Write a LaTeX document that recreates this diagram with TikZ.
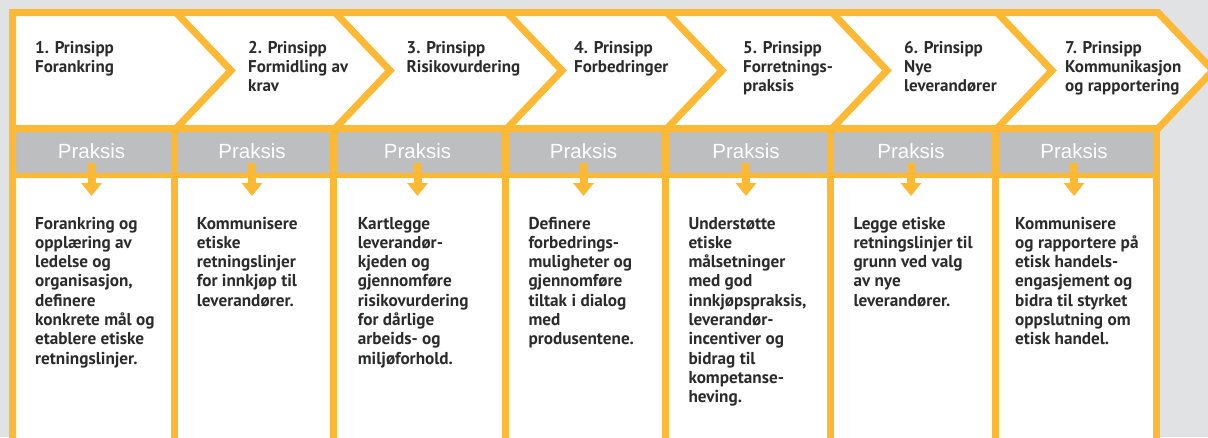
\documentclass[tikz,border=0pt]{standalone}
\usepackage{fontspec}
\setmainfont{PT Sans}
\newfontfamily\praksisfont{Liberation Sans}
\usetikzlibrary{arrows.meta}
\definecolor{ylw}{HTML}{FDB933}
\definecolor{bgray}{HTML}{E1E2E4}
\definecolor{band}{HTML}{BCBEC0}
\definecolor{txt}{HTML}{2B2B2B}
\newcommand\mylines[1]{\begin{tabular}[t]{@{}l@{}}#1\end{tabular}}
\begin{document}
\begin{tikzpicture}[x=1pt,y=-1pt,
  frame/.style={draw=ylw, line width=7pt, line join=miter},
  head/.style={anchor=base west, inner sep=0pt, text=txt, font=\bfseries\fontsize{17}{19}\selectfont},
  body/.style={anchor=base west, inner sep=0pt, text=txt, font=\bfseries\fontsize{17.2}{19.3}\selectfont},
  prak/.style={anchor=base, inner sep=0pt, text=white, font=\praksisfont\fontsize{20.5}{24}\selectfont},
  darrow/.style={draw=ylw, line width=8pt, -{Triangle[width=20pt,length=13pt]}}]
\fill[bgray] (0,0) rectangle (1208,437);
\useasboundingbox (0,0) rectangle (1208,437);
\clip (0,0) rectangle (1208,437);
% fills
\fill[white] (12.5,12.5) -- (1158,12.5) -- (1213,70.5) -- (1158,128.5) -- (12.5,128.5) -- cycle;
\fill[band] (12.5,128.5) rectangle (1156.5,175.5);
\fill[white] (12.5,175.5) rectangle (1156.5,445);
% frame lines
\draw[frame] (12.5,445) -- (12.5,12.5) -- (1158,12.5) -- (1213,70.5) -- (1158,128.5) -- (12.5,128.5);
\draw[frame] (1156.5,128.5) -- (1156.5,445);
\draw[draw=ylw, line width=5pt] (12.5,175.5) -- (1156.5,175.5);
\foreach \b in {174.5,333.5,505.5,665.5,830.5,995.5}{
  \draw[frame] (\b+1.5,12.5) -- (\b+56.5,70.5) -- (\b+1.5,128.5);
  \draw[frame] (\b,128.5) -- (\b,445);
}
% headings
\node[head] (h1) at (35,53.5) {\mylines{1. Prinsipp\\Forankring}};
\node[head] (h2) at (248,53.5) {\mylines{2. Prinsipp\\Formidling av\\krav}};
\node[head] (h3) at (406.5,53.5) {\mylines{3. Prinsipp\\Risikovurdering}};
\node[head] (h4) at (574,53.5) {\mylines{4. Prinsipp\\Forbedringer}};
\node[head] (h5) at (743,53.5) {\mylines{5. Prinsipp\\Forretnings-\\praksis}};
\node[head] (h6) at (904,53.5) {\mylines{6. Prinsipp\\Nye\\leverandører}};
\node[head] (h7) at (1065,53.5) {\mylines{7. Prinsipp\\Kommunikasjon\\og rapportering}};
% praksis labels and arrows
\foreach \c [count=\i] in {91.5,252,417.5,583.5,746,911,1074}{
  \node[prak] (p\i) at (\c,158) {Praksis};
  \coordinate (as\i) at (\c,163);
  \coordinate (ae\i) at (\c,196);
  \draw[darrow] (as\i) -- (ae\i);
}
% body texts
\node[body] (b1) at (35,229) {\mylines{Forankring og\\opplæring av\\ledelse og\\organisasjon,\\definere\\konkrete mål og\\etablere etiske\\retningslinjer.}};
\node[body] (b2) at (196.7,229) {\mylines{Kommunisere\\etiske\\retningslinjer\\for innkjøp til\\leverandører.}};
\node[body] (b3) at (357.7,229) {\mylines{Kartlegge\\leverandør-\\kjeden og\\gjennomføre\\risikovurdering\\for dårlige\\arbeids- og\\miljøforhold.}};
\node[body] (b4) at (528.3,229) {\mylines{Definere\\forbedrings-\\muligheter og\\gjennomføre\\tiltak i dialog\\med\\produsentene.}};
\node[body] (b5) at (688.3,229) {\mylines{Understøtte\\etiske\\målsetninger\\med god\\innkjøpspraksis,\\leverandør-\\incentiver og\\bidrag til\\kompetanse-\\heving.}};
\node[body] (b6) at (853.3,229) {\mylines{Legge etiske\\retningslinjer til\\grunn ved valg\\av nye\\leverandører.}};
\node[body] (b7) at (1015,229) {\mylines{Kommunisere\\og rapportere på\\etisk handels-\\engasjement og\\bidra til styrket\\oppslutning om\\etisk handel.}};
\end{tikzpicture}
\end{document}
